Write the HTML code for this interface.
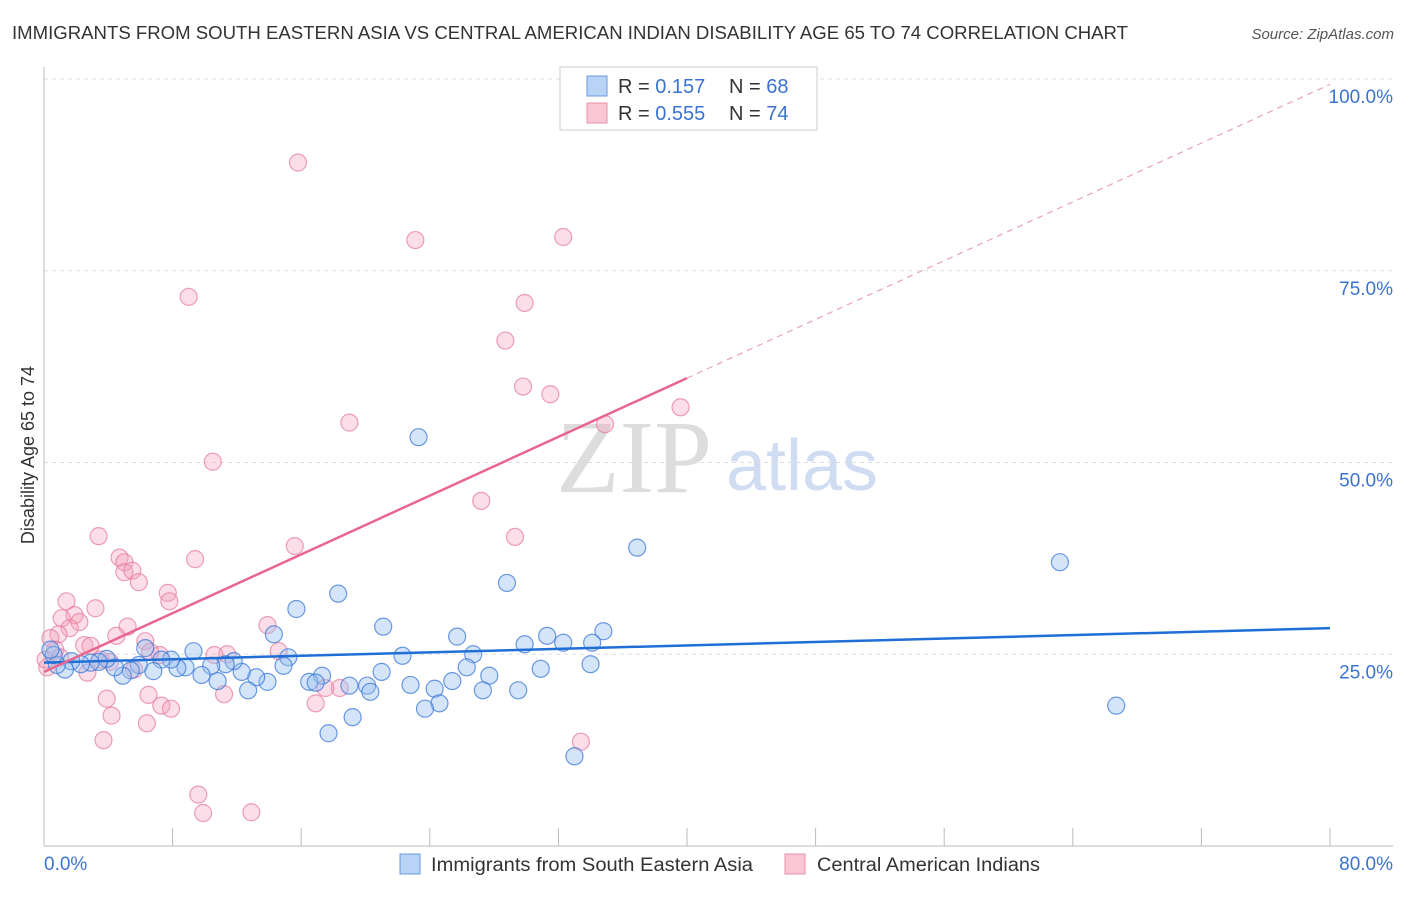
<!DOCTYPE html>
<html><head><meta charset="utf-8"><style>
body{margin:0;background:#fff;font-family:"Liberation Sans",sans-serif}
</style></head><body>
<svg id="c" width="1406" height="892" xmlns="http://www.w3.org/2000/svg">
<text x="12" y="39" font-size="18" fill="#333" textLength="1116" lengthAdjust="spacingAndGlyphs">IMMIGRANTS FROM SOUTH EASTERN ASIA VS CENTRAL AMERICAN INDIAN DISABILITY AGE 65 TO 74 CORRELATION CHART</text>
<text x="1394" y="39" font-size="15" fill="#555" font-style="italic" text-anchor="end">Source: ZipAtlas.com</text>
<text x="34" y="455" font-size="18" fill="#333" text-anchor="middle" transform="rotate(-90 34 455)">Disability Age 65 to 74</text>
<g><text x="634" y="492" font-size="104" fill="#ddd" font-family="Liberation Serif,serif" text-anchor="middle">ZIP</text><text x="802" y="490" font-size="72" fill="#cfdcf2" text-anchor="middle">atlas</text></g>
<g id="grid"></g><g id="axes"></g><g id="pts"></g><g id="lines"></g>
<g>
<rect x="560" y="67" width="257" height="63" fill="#fff" stroke="#ccc"/>
<rect x="587" y="76" width="20" height="20" fill="#b8d3f5" stroke="#6a9be0"/>
<rect x="587" y="103" width="20" height="20" fill="#f9c7d4" stroke="#e890aa"/>
<text x="618" y="93" font-size="20" fill="#333">R = <tspan fill="#3b73d1"> 0.157</tspan><tspan x="729">N = </tspan><tspan fill="#3b73d1">68</tspan></text>
<text x="618" y="120" font-size="20" fill="#333">R = <tspan fill="#3b73d1">0.555</tspan><tspan x="729">N = </tspan><tspan fill="#3b73d1">74</tspan></text>
</g>
<g>
<rect x="400" y="854" width="20" height="20" fill="#b8d3f5" stroke="#6a9be0"/>
<text x="431" y="871" font-size="19" fill="#333" textLength="322" lengthAdjust="spacingAndGlyphs">Immigrants from South Eastern Asia</text>
<rect x="785" y="854" width="20" height="20" fill="#f9c7d4" stroke="#e890aa"/>
<text x="817" y="871" font-size="19" fill="#333" textLength="223" lengthAdjust="spacingAndGlyphs">Central American Indians</text>
</g>
</svg>
<script>
const yTicks=[25,50,75,100];
const xTickLabels=["0.0%","80.0%"];
const blueX=[23.3,36.9,63.2,66.7,28.8,18.3,15.7,21.1,34.8,31.3,25.7,29.9,34.1,32.3,14.3,26.7,22.3,34.0,30.9,26.3,21.0,27.7,25.4,24.3,22.8,27.3,29.5,24.6,23.7,20.1,20.3,19.0,17.3,16.5,16.9,19.2,17.7,33.0,15.2,14.9,13.9,13.2,12.7,12.3,11.8,11.3,10.8,10.4,9.8,9.3,8.8,8.3,7.9,7.3,6.8,6.3,5.9,5.4,4.9,4.4,3.9,3.4,2.9,2.3,1.7,1.3,0.8,0.6,0.4];
const blueY=[53.3,38.9,37.0,18.3,34.3,32.9,30.9,28.6,28.0,27.4,27.3,26.3,26.5,26.5,27.6,25.0,24.8,23.7,23.1,23.3,22.7,22.2,21.5,20.5,21.0,20.3,20.3,18.6,17.9,20.9,20.1,20.9,22.2,21.4,21.3,16.8,14.7,11.7,24.6,23.5,21.4,22.0,20.3,22.7,24.1,23.7,21.5,23.5,22.3,25.4,23.3,23.2,24.3,24.3,22.8,25.8,23.6,22.9,22.2,23.3,24.4,24.0,23.9,23.7,24.1,23.0,23.6,24.9,25.6];
const pinkX=[15.8,23.1,32.3,9.0,29.9,28.7,29.8,31.5,39.6,34.9,19.0,10.5,27.2,29.3,3.4,15.6,9.4,4.7,5.0,5.0,5.5,5.9,7.7,7.8,1.4,3.2,1.9,1.1,2.2,1.6,5.2,13.9,4.5,0.9,0.4,2.5,2.9,6.3,11.4,10.6,7.2,14.6,6.6,3.5,4.1,5.6,0.2,2.7,18.4,17.5,16.9,11.2,6.5,3.9,7.3,7.9,4.2,6.4,3.7,33.4,9.6,9.9,12.9,0.7,0.1,1.0];
const pinkY=[89.1,79.0,79.4,71.6,70.8,65.9,59.9,58.9,57.2,55.0,55.2,50.1,45.0,40.3,40.4,39.1,37.4,37.6,37.0,35.7,35.9,34.4,33.0,31.9,31.9,31.0,30.1,29.7,29.2,28.4,28.6,28.8,27.4,27.6,27.1,26.2,26.1,26.7,25.0,24.9,24.9,25.4,25.3,24.3,24.0,23.0,23.3,22.6,20.6,20.6,18.6,19.8,19.7,19.2,18.3,17.9,17.0,16.0,13.8,13.6,6.7,4.3,4.4,25.6,24.3,24.6];
const blueFit=[23.9,28.4];
const pinkFit=[22.7,61.0];
const NS="http://www.w3.org/2000/svg";
const X=v=>44+v/80*1286, Y=v=>846-v/100*767;
function mk(p,t,a){const e=document.createElementNS(NS,t);for(const k in a)e.setAttribute(k,a[k]);p.appendChild(e);return e;}
const grid=document.getElementById('grid'),axes=document.getElementById('axes'),pts=document.getElementById('pts'),lines=document.getElementById('lines');
yTicks.forEach(t=>{
 const l=mk(grid,'line',{x1:44,x2:1393,y1:Y(t),y2:Y(t),stroke:'#ddd','stroke-dasharray':'4 4'});
 
 
 const tx=mk(axes,'text',{x:1393,y:Y(t)+24,'font-size':19,fill:'#3b73d1','text-anchor':'end'});
 tx.textContent=t.toFixed(1)+'%';
 
 
});
const ya=mk(axes,'line',{x1:44,x2:44,y1:67,y2:846,stroke:'#bbb'});


const xa=mk(axes,'line',{x1:44,x2:1393,y1:846,y2:846,stroke:'#bbb'});


for(let i=0;i<=10;i++){const tk=mk(axes,'line',{x1:X(i*8),x2:X(i*8),y1:828,y2:846,stroke:'#bbb'});
 
 }
[[0,'start',44],[80,'end',1393]].forEach((d,i)=>{const t=mk(axes,'text',{x:d[2],y:870,'font-size':19,fill:'#3b73d1','text-anchor':d[1]});t.textContent=xTickLabels[i];
 
 });
pinkX.forEach((v,i)=>{const c=mk(pts,'circle',{cx:X(v),cy:Y(pinkY[i]),r:8.5,fill:'rgba(244,160,185,0.35)',stroke:'rgba(230,120,155,0.7)','stroke-width':1.2});
 
 });
blueX.forEach((v,i)=>{const c=mk(pts,'circle',{cx:X(v),cy:Y(blueY[i]),r:8.5,fill:'rgba(150,190,240,0.4)',stroke:'rgba(60,120,215,0.75)','stroke-width':1.2});
 
 });
const bl=mk(lines,'line',{x1:X(0),y1:Y(blueFit[0]),x2:X(80),y2:Y(blueFit[1]),stroke:'#1f6fd6','stroke-width':2.5});


const slope=(pinkFit[1]-pinkFit[0])/40;
const pl=mk(lines,'line',{x1:X(0),y1:Y(pinkFit[0]),x2:X(40),y2:Y(pinkFit[1]),stroke:'#e8668f','stroke-width':2.5});


const pd=mk(lines,'line',{x1:X(40),y1:Y(pinkFit[1]),x2:X(80),y2:Y(pinkFit[0]+slope*80),stroke:'#eaa0b8','stroke-width':1.2,'stroke-dasharray':'6 5'});


</script>
</body></html>
